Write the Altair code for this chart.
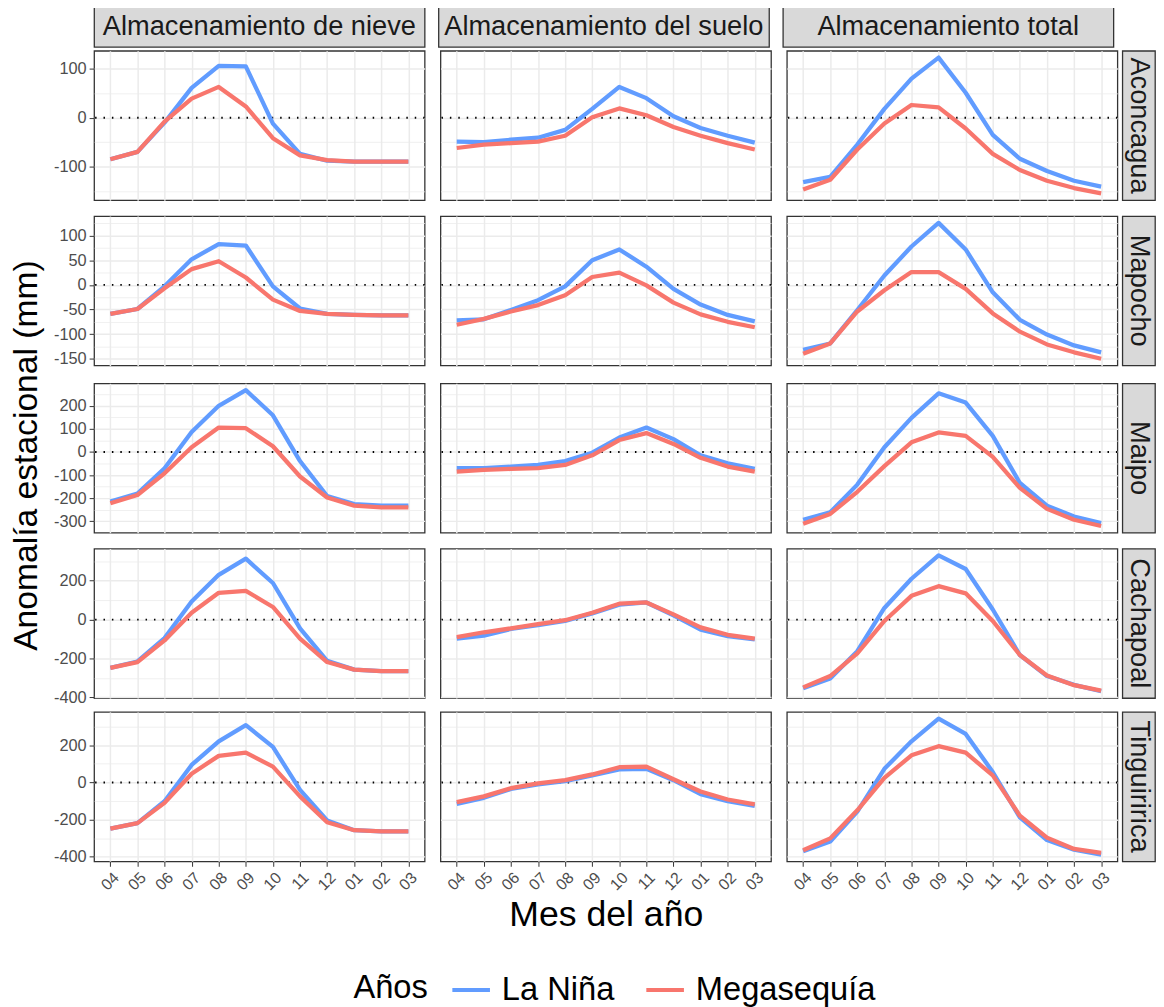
import altair as alt
import pandas as pd

months = ["04", "05", "06", "07", "08", "09", "10", "11", "12", "01", "02", "03"]
basins = ["Aconcagua", "Mapocho", "Maipo", "Cachapoal", "Tinguiririca"]
variables = ["Almacenamiento de nieve", "Almacenamiento del suelo", "Almacenamiento total"]
series = ["La Niña", "Megasequía"]
series_colors = ["#619CFF", "#F8766D"]

# Aconcagua
aconcagua_nieve_nina = [-85, -70, -10, 61, 106, 105, -12, -74, -88, -90, -90, -90]
aconcagua_nieve_mega = [-85, -70, -8, 39, 63, 23, -42, -77, -87, -90, -90, -90]
aconcagua_suelo_nina = [-49, -50, -45, -41, -25, 18, 63, 40, 3, -21, -37, -51]
aconcagua_suelo_mega = [-62, -55, -52, -49, -37, 1, 19, 5, -19, -37, -52, -65]
aconcagua_total_nina = [-132, -121, -55, 18, 80, 123, 51, -35, -84, -109, -129, -141]
aconcagua_total_mega = [-147, -127, -65, -12, 26, 21, -22, -74, -107, -129, -144, -155]
# Mapocho
mapocho_nieve_nina = [-59, -49, -3, 52, 83, 80, -3, -48, -59, -61, -62, -62]
mapocho_nieve_mega = [-59, -49, -7, 32, 48, 15, -30, -53, -59, -61, -62, -62]
mapocho_suelo_nina = [-72, -70, -51, -31, -3, 50, 72, 37, -8, -40, -61, -74]
mapocho_suelo_mega = [-81, -69, -54, -41, -21, 16, 25, -1, -36, -60, -75, -86]
mapocho_total_nina = [-132, -119, -51, 19, 78, 126, 72, -15, -71, -101, -123, -137]
mapocho_total_mega = [-140, -119, -54, -11, 26, 26, -8, -58, -95, -121, -137, -150]
# Maipo
maipo_nieve_nina = [-214, -180, -70, 87, 200, 268, 159, -39, -190, -225, -232, -232]
maipo_nieve_mega = [-222, -186, -92, 21, 106, 103, 25, -106, -197, -232, -239, -239]
maipo_suelo_nina = [-70, -70, -63, -56, -39, -3, 63, 106, 56, -14, -49, -73]
maipo_suelo_mega = [-85, -77, -73, -70, -56, -14, 52, 82, 35, -25, -63, -85]
maipo_total_nina = [-293, -261, -141, 21, 148, 254, 214, 70, -134, -232, -279, -307]
maipo_total_mega = [-310, -268, -172, -61, 42, 85, 70, -21, -155, -246, -293, -320]
# Cachapoal
cachapoal_nieve_nina = [-248, -215, -95, 93, 230, 313, 188, -45, -212, -257, -265, -265]
cachapoal_nieve_mega = [-248, -218, -107, 35, 138, 148, 65, -98, -218, -257, -265, -265]
cachapoal_suelo_nina = [-98, -82, -48, -28, -7, 32, 77, 88, 22, -52, -85, -102]
cachapoal_suelo_mega = [-90, -65, -45, -23, -3, 35, 82, 88, 27, -40, -78, -98]
cachapoal_total_nina = [-352, -302, -162, 60, 210, 330, 260, 52, -182, -290, -335, -368]
cachapoal_total_mega = [-348, -290, -173, -7, 122, 172, 135, -7, -182, -287, -337, -365]
# Tinguiririca
tinguiririca_nieve_nina = [-249, -219, -101, 94, 221, 308, 191, -40, -205, -257, -263, -263]
tinguiririca_nieve_mega = [-249, -219, -110, 47, 143, 160, 85, -75, -214, -257, -263, -263]
tinguiririca_suelo_nina = [-115, -83, -35, -10, 7, 38, 70, 73, 12, -63, -101, -127]
tinguiririca_suelo_mega = [-106, -75, -31, -5, 12, 43, 82, 85, 17, -49, -92, -118]
tinguiririca_total_nina = [-370, -318, -157, 73, 221, 343, 261, 56, -188, -310, -362, -388]
tinguiririca_total_mega = [-365, -301, -150, 24, 146, 195, 160, 38, -179, -297, -358, -379]

values = {
    "Aconcagua": [(aconcagua_nieve_nina, aconcagua_nieve_mega),
                  (aconcagua_suelo_nina, aconcagua_suelo_mega),
                  (aconcagua_total_nina, aconcagua_total_mega)],
    "Mapocho": [(mapocho_nieve_nina, mapocho_nieve_mega),
                (mapocho_suelo_nina, mapocho_suelo_mega),
                (mapocho_total_nina, mapocho_total_mega)],
    "Maipo": [(maipo_nieve_nina, maipo_nieve_mega),
              (maipo_suelo_nina, maipo_suelo_mega),
              (maipo_total_nina, maipo_total_mega)],
    "Cachapoal": [(cachapoal_nieve_nina, cachapoal_nieve_mega),
                  (cachapoal_suelo_nina, cachapoal_suelo_mega),
                  (cachapoal_total_nina, cachapoal_total_mega)],
    "Tinguiririca": [(tinguiririca_nieve_nina, tinguiririca_nieve_mega),
                     (tinguiririca_suelo_nina, tinguiririca_suelo_mega),
                     (tinguiririca_total_nina, tinguiririca_total_mega)],
}

# y-axis tick values per row (major + minor) and major step
row_ticks = {
    "Aconcagua": ([-150, -100, -50, 0, 50, 100], 100),
    "Mapocho": (list(range(-150, 126, 25)), 50),
    "Maipo": (list(range(-300, 251, 50)), 100),
    "Cachapoal": (list(range(-400, 301, 100)), 200),
    "Tinguiririca": (list(range(-400, 301, 100)), 200),
}

PW, PH = 334, 151
W = 42
FONT = "Liberation Sans"


def row_domain(basin):
    allv = [v for pair in values[basin] for s in pair for v in s]
    lo, hi = min(allv), max(allv)
    pad = 0.05 * (hi - lo)
    return [lo - pad, hi + pad]


def panel(ri, ci):
    basin = basins[ri]
    nina, mega = values[basin][ci]
    df = pd.DataFrame({
        "mes": months * 2,
        "valor": nina + mega,
        "serie": [series[0]] * 12 + [series[1]] * 12,
    })
    ticks, major = row_ticks[basin]
    left = ci == 0
    bottom = ri == len(basins) - 1
    test = f"datum.value % {major} === 0"
    ykw = dict(values=ticks, grid=True, gridColor="#ebebeb",
               gridWidth={"condition": {"test": test, "value": 1.5}, "value": 0.75},
               domain=False, title=None, labels=left, ticks=left)
    if left:
        ykw.update(labelExpr=f"{test} ? '' + datum.value : ''",
                   tickColor={"condition": {"test": test, "value": "#333333"}, "value": "transparent"},
                   minExtent=W, maxExtent=W, labelPadding=3, tickSize=5)
    else:
        ykw.update(minExtent=0, maxExtent=0)
    xkw = dict(grid=True, gridColor="#ebebeb", gridWidth=1.5, domain=False,
               labels=bottom, ticks=bottom, title=None)
    if bottom:
        xkw.update(labelAngle=315, labelFontSize=16, labelPadding=3, tickSize=5)
        if ci == 1:
            xkw.update(title="Mes del año", titleFontSize=36, titlePadding=5,
                       titleFontWeight="normal", titleColor="black")
    x = alt.X("mes:O", sort=months, scale=alt.Scale(type="point", padding=0.6),
              axis=alt.Axis(**xkw))
    y = alt.Y("valor:Q", scale=alt.Scale(domain=row_domain(basin), nice=False, zero=False),
              axis=alt.Axis(**ykw))
    lines = alt.Chart(df).mark_line(strokeWidth=4.3, strokeJoin="round").encode(
        x=x, y=y,
        color=alt.Color("serie:N", scale=alt.Scale(domain=series, range=series_colors),
                        legend=alt.Legend(title="Años")),
    )
    rule = alt.Chart(pd.DataFrame({"valor": [0]})).mark_rule(
        color="black", strokeWidth=2, strokeDash=[1.5, 7]
    ).encode(y=y)
    return alt.layer(rule, lines).properties(width=PW, height=PH)


def top_strip(ci):
    df = pd.DataFrame({"lab": [variables[ci]]})
    ext = W if ci == 0 else 0
    return alt.Chart(df).mark_text(fontSize=27.5, color="#1a1a1a", font=FONT).encode(
        text="lab:N",
        y=alt.Y("lab:N", axis=alt.Axis(labels=False, ticks=False, domain=False, grid=False,
                                      title=None, minExtent=ext, maxExtent=ext)),
    ).properties(width=PW, height=40,
                 view=alt.ViewBackground(fill="#d9d9d9", stroke="#333333", strokeWidth=1.3))


def row_strip(ri):
    df = pd.DataFrame({"lab": [basins[ri]]})
    return alt.Chart(df).mark_text(fontSize=27.5, color="#1a1a1a", angle=90, font=FONT).encode(
        text="lab:N"
    ).properties(width=33, height=PH,
                 view=alt.ViewBackground(fill="#d9d9d9", stroke="#333333", strokeWidth=1.3))


rows = []
for ri in range(len(basins)):
    rows.append(alt.hconcat(
        panel(ri, 0), panel(ri, 1),
        alt.hconcat(panel(ri, 2), row_strip(ri), spacing=2).resolve_scale(x="independent", y="independent"),
        spacing=12,
    ).resolve_scale(x="independent", y="independent"))

upper = alt.vconcat(*rows[:4], spacing=14).resolve_scale(x="independent", y="independent")
body = alt.vconcat(upper, rows[4], spacing=4).resolve_scale(x="independent", y="independent")
top = alt.hconcat(*[top_strip(ci) for ci in range(3)], spacing=12).resolve_scale(y="independent")
main = alt.vconcat(top, body, spacing=2).resolve_scale(x="independent", y="independent")

ytitle = alt.Chart(pd.DataFrame({"t": ["Anomalía estacional (mm)"]})).mark_text(
    angle=270, fontSize=34, color="black", font=FONT
).encode(text="t:N").properties(width=39, height=906,
                                view=alt.ViewBackground(strokeOpacity=0))

chart = alt.hconcat(ytitle, main, spacing=5).resolve_scale(
    x="independent", y="independent"
).properties(
    padding={"left": 0, "top": -7, "right": 0, "bottom": 0}
).configure(
    font=FONT
).configure_view(
    stroke="#333333", strokeWidth=1.3
).configure_axis(
    labelFont=FONT, titleFont=FONT, labelColor="#4d4d4d", labelFontSize=16.5,
    tickColor="#333333"
).configure_legend(
    orient="none", legendX=349, legendY=972, direction="horizontal", titleOrient="left",
    titleFontSize=33, labelFontSize=33, titleFontWeight="normal",
    titleColor="black", labelColor="black", titleFont=FONT, labelFont=FONT,
    symbolType="stroke", symbolSize=1444, symbolStrokeWidth=4,
    labelOffset=10, columnPadding=24, titlePadding=22, labelLimit=400,
)

chart.save("out.html", embed_options={"renderer": "svg", "actions": False})
